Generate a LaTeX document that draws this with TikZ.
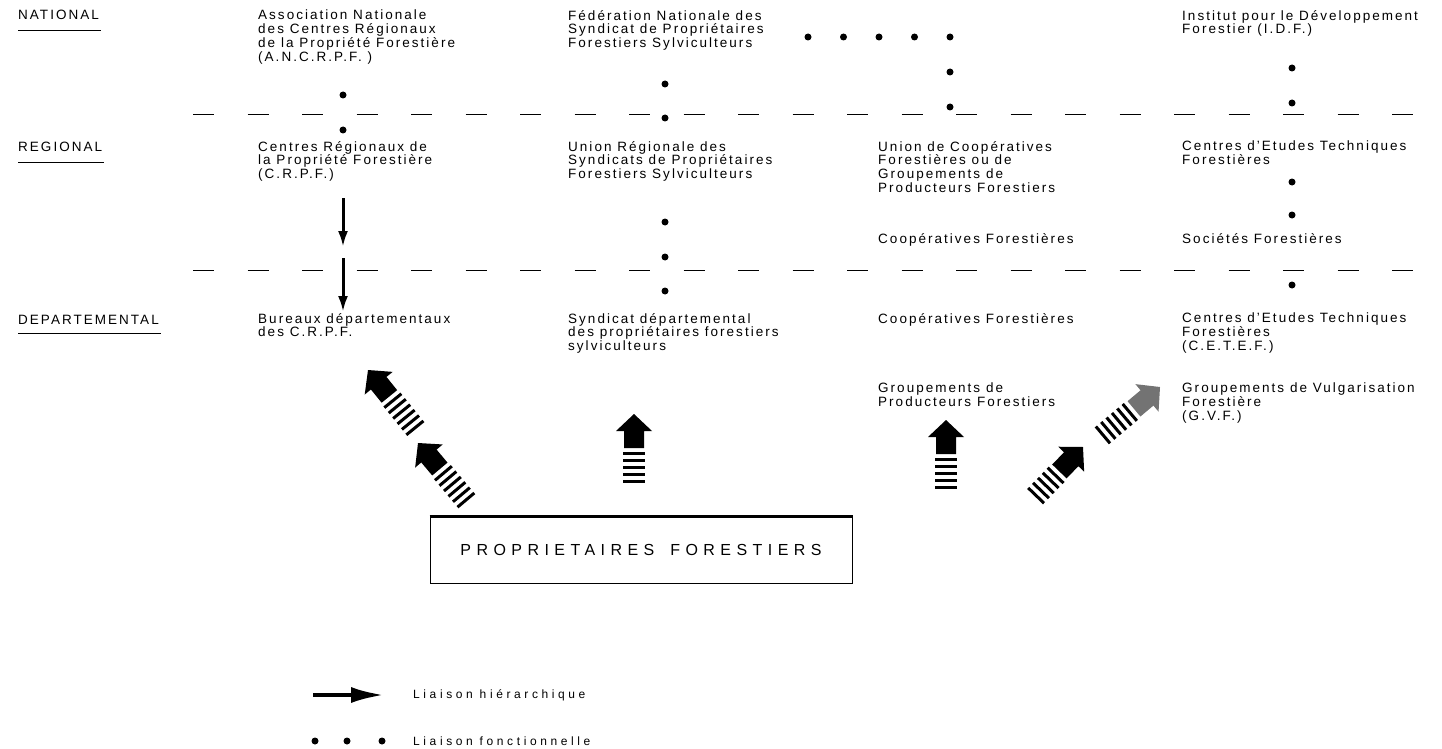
\documentclass[tikz,border=0pt]{standalone}
\usepackage{fontspec}
\setmainfont{Liberation Sans}[LetterSpace=15]
\newfontfamily\boxfont{Liberation Sans}[LetterSpace=34]
\newfontfamily\legendfont{Liberation Sans}[LetterSpace=30]
\usetikzlibrary{arrows.meta}

\tikzset{
  org/.style={anchor=north west, align=left, inner sep=0pt, font=\fontsize{13.5}{13.8}\selectfont},
  level/.style={anchor=west, inner sep=0pt, font=\fontsize{13.5}{13.8}\selectfont},
  legend/.style={anchor=west, inner sep=0pt, font=\legendfont\fontsize{12}{13}\selectfont},
  fdot/.style={circle, fill, inner sep=0pt, minimum size=7pt},
  sep/.style={line width=1pt, dash pattern=on 21pt off 33.5pt},
  hier/.style={-{Latex[length=16pt,width=10pt]}, line width=3pt},
  pics/wide arrow/.style 2 args={code={
    \fill[#1] (0,0) -- (-18,-17) -- (-10,-17) -- (-10,-34) -- (10,-34) -- (10,-17) -- (18,-17) -- cycle;
    \foreach \k in {1,...,#2}
      \fill (-11,{-31-7*\k}) rectangle (11,{-34-7*\k});
  }}
}

\begin{document}
\begin{tikzpicture}[x=1pt,y=1pt]
\useasboundingbox (0,0) rectangle (1442,-749);
% levels
\node[level] (nat) at (18,-15) {NATIONAL};
\node[level] (reg) at (18,-147) {REGIONAL};
\node[level] (dep) at (18,-320) {DEPARTEMENTAL};
\draw ([yshift=-10pt]nat.south west) -- ([yshift=-10pt,xshift=2pt]nat.south east);
\draw ([yshift=-10pt]reg.south west) -- ([yshift=-10pt,xshift=2pt]reg.south east);
\draw ([yshift=-8pt]dep.south west) -- ([yshift=-8pt,xshift=2pt]dep.south east);
\draw[sep] (193,-115) -- (1414,-115);
\draw[sep] (193,-270) -- (1414,-270);
% national
\node[org] (ancrpf) at (258,-10) {Association Nationale\\des Centres Régionaux\\de la Propriété Forestière\\(A.N.C.R.P.F. )};
\node[org] (fnspfs) at (568,-10) {Fédération Nationale des\\Syndicat de Propriétaires\\Forestiers Sylviculteurs};
\node[org] (idf) at (1182,-10) {Institut pour le Développement\\Forestier (I.D.F.)};
% regional
\node[org] (crpf) at (258,-141) {Centres Régionaux de\\la Propriété Forestière\\(C.R.P.F.)};
\node[org] (ursp) at (568,-141) {Union Régionale des\\Syndicats de Propriétaires\\Forestiers Sylviculteurs};
\node[org] (ucoop) at (878,-141) {Union de Coopératives\\Forestières ou de\\Groupements de\\Producteurs Forestiers};
\node[org] (coopr) at (878,-233) {Coopératives Forestières};
\node[org] (cetfr) at (1182,-141) {Centres d'Etudes Techniques\\Forestières};
\node[org] (socf) at (1182,-233) {Sociétés Forestières};
% departemental
\node[org] (bureaux) at (258,-313) {Bureaux départementaux\\des C.R.P.F.};
\node[org] (sdpfs) at (568,-313) {Syndicat départemental\\des propriétaires forestiers\\sylviculteurs};
\node[org] (coopd) at (878,-313) {Coopératives Forestières};
\node[org] (gpf) at (878,-383) {Groupements de\\Producteurs Forestiers};
\node[org] (cetef) at (1182,-313) {Centres d'Etudes Techniques\\Forestières\\(C.E.T.E.F.)};
\node[org] (gvf) at (1182,-383) {Groupements de Vulgarisation\\Forestière\\(G.V.F.)};
% liaison fonctionnelle
\node[fdot] (c1a) at (343,-95) {};
\node[fdot] (c1b) at (343,-130) {};
\node[fdot] (c2a) at (665,-84) {};
\node[fdot] (c2b) at (665,-118) {};
\node[fdot] (c2c) at (665,-222) {};
\node[fdot] (c2d) at (665,-257) {};
\node[fdot] (c2e) at (665,-291) {};
\foreach \i in {0,...,4}
  \node[fdot] (fn\i) at ({808+35.5*\i},-37) {};
\node[fdot] (c3a) at (950,-72) {};
\node[fdot] (c3b) at (950,-107) {};
\node[fdot] (c4a) at (1292,-68) {};
\node[fdot] (c4b) at (1292,-103) {};
\node[fdot] (c4c) at (1292,-182) {};
\node[fdot] (c4d) at (1292,-215) {};
\node[fdot] (c4e) at (1292,-285) {};
% liaison hierarchique
\coordinate (h1a) at (343,-198);
\coordinate (h1b) at (343,-247);
\coordinate (h2a) at (343,-258);
\coordinate (h2b) at (343,-312);
\draw[hier] (h1a) -- (h1b);
\draw[hier] (h2a) -- (h2b);
% proprietaires
\node[draw, line width=1pt, minimum width=422pt, minimum height=66pt,
  font=\boxfont\fontsize{16}{17}\selectfont] (owners) at (641,-550) {PROPRIETAIRES\hspace{16pt}FORESTIERS};
\draw[line width=2.5pt] (owners.north west) -- (owners.north east);
\pic[rotate=39] at (368,-370) {wide arrow={black}{6}};
\pic[rotate=40] at (418,-443) {wide arrow={black}{6}};
\pic at (634,-414) {wide arrow={black}{5}};
\pic at (946,-420) {wide arrow={black}{5}};
\pic[rotate=-44] at (1083,-447) {wide arrow={black}{5}};
\pic[rotate=-50] at (1160,-387) {wide arrow={black!55}{6}};
% legend
\coordinate (lh0) at (313,-695);
\coordinate (lh1) at (384,-695);
\draw[-{Latex[length=33pt,width=16pt]}, line width=4pt] (lh0) -- (lh1);
\node[legend] (lhtext) at (413,-695) {Liaison hiérarchique};
\foreach \i/\x in {1/315,2/347,3/382}
  \node[fdot] (ld\i) at (\x,-741) {};
\node[legend] (lftext) at (413,-741) {Liaison fonctionnelle};
\end{tikzpicture}
\end{document}
